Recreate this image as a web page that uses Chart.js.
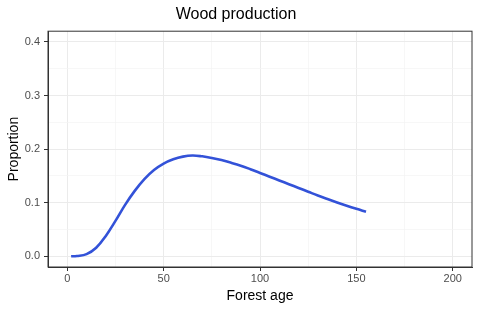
<!DOCTYPE html>
<html lang="en">
<head>
    <meta charset="UTF-8">
    <title>Wood production</title>
    <script src="https://cdn.jsdelivr.net/npm/chart.js"></script>
    <style>
        body {
            margin: 0;
            background-color: white;
        }
        #chart {
            width: 480px;
            height: 311px;
        }
    </style>
</head>
<body>
<div id="chart">
    <canvas id="woodChart" width="480" height="311"></canvas>
</div>

<script>
    // values
    const ages = [2, 5, 10, 15, 20, 25, 30, 35, 40, 45, 50, 55, 60, 65, 70, 75, 80, 85, 90, 95, 100, 105, 110, 115, 120, 125, 130, 135, 140, 145, 150, 155];
    const proportion = [0.000, 0.0005, 0.004, 0.016, 0.038, 0.066, 0.096, 0.122, 0.144, 0.161, 0.173, 0.181, 0.186, 0.188, 0.1865, 0.1835, 0.1795, 0.1745, 0.169, 0.1625, 0.1555, 0.1485, 0.1415, 0.1345, 0.1275, 0.1205, 0.1135, 0.107, 0.1005, 0.0943, 0.0885, 0.083];

    const xTicks = [0, 25, 50, 75, 100, 125, 150, 175, 200];
    const xLabels = [0, 50, 100, 150, 200];
    const yTicks = [0, 0.05, 0.1, 0.15, 0.2, 0.25, 0.3, 0.35, 0.4];
    const yLabels = [0, 0.1, 0.2, 0.3, 0.4];

    const points = ages.map((a, i) => ({ x: a, y: proportion[i] }));

    function isMajor(list, v) {
        return list.some(m => Math.abs(m - v) < 1e-9);
    }

    const ctx = document.getElementById('woodChart').getContext('2d');
    new Chart(ctx, {
        type: 'line',
        data: {
            datasets: [{
                data: points,
                borderColor: '#3352d8',
                borderWidth: 2.6,
                pointRadius: 0,
                tension: 0.4,
                fill: false
            }]
        },
        options: {
            responsive: false,
            animation: false,
            layout: { padding: { right: 8 } },
            plugins: {
                legend: { display: false },
                tooltip: { enabled: false },
                title: {
                    display: true,
                    text: 'Wood production',
                    color: '#000',
                    font: { family: 'Liberation Sans, Arial, sans-serif', size: 16, weight: 'normal' },
                    padding: { top: 5, bottom: 7 }
                }
            },
            scales: {
                x: {
                    type: 'linear',
                    min: -10,
                    max: 210,
                    afterBuildTicks: s => { s.ticks = xTicks.map(v => ({ value: v })); },
                    afterFit: s => { s.height = 44; },
                    border: { color: '#333', width: 1 },
                    grid: {
                        color: c => isMajor(xLabels, c.tick.value) ? '#ebebeb' : '#f4f4f4',
                        lineWidth: c => isMajor(xLabels, c.tick.value) ? 1 : 0.7,
                        tickColor: c => isMajor(xLabels, c.tick.value) ? '#333' : 'rgba(0,0,0,0)',
                        tickLength: 4
                    },
                    ticks: {
                        color: '#4d4d4d',
                        padding: 1,
                        maxRotation: 0,
                        autoSkip: false,
                        font: { family: 'Liberation Sans, Arial, sans-serif', size: 11 },
                        callback: v => isMajor(xLabels, v) ? String(v) : ''
                    },
                    title: {
                        display: true,
                        text: 'Forest age',
                        color: '#000',
                        font: { family: 'Liberation Sans, Arial, sans-serif', size: 14 },
                        padding: { top: 0, bottom: 6 }
                    }
                },
                y: {
                    min: -0.02,
                    max: 0.42,
                    afterBuildTicks: s => { s.ticks = yTicks.map(v => ({ value: v })); },
                    afterFit: s => { s.width = 48; },
                    border: { color: '#333', width: 1 },
                    grid: {
                        color: c => isMajor(yLabels, c.tick.value) ? '#ebebeb' : '#f4f4f4',
                        lineWidth: c => isMajor(yLabels, c.tick.value) ? 1 : 0.7,
                        tickColor: c => isMajor(yLabels, c.tick.value) ? '#333' : 'rgba(0,0,0,0)',
                        tickLength: 4
                    },
                    ticks: {
                        color: '#4d4d4d',
                        padding: 4,
                        autoSkip: false,
                        font: { family: 'Liberation Sans, Arial, sans-serif', size: 11 },
                        callback: v => isMajor(yLabels, v) ? v.toFixed(1) : ''
                    },
                    title: {
                        display: true,
                        text: 'Proportion',
                        color: '#000',
                        font: { family: 'Liberation Sans, Arial, sans-serif', size: 14 },
                        padding: { top: 6, bottom: 0 }
                    }
                }
            }
        },
        plugins: [{
            // right and top edges of the panel border
            id: 'panelBorder',
            afterDraw(chart) {
                const a = chart.chartArea;
                const c = chart.ctx;
                c.save();
                c.strokeStyle = '#333';
                c.lineWidth = 1;
                c.strokeRect(a.left, a.top, a.right - a.left, a.bottom - a.top);
                c.restore();
            }
        }]
    });
</script>
</body>
</html>
